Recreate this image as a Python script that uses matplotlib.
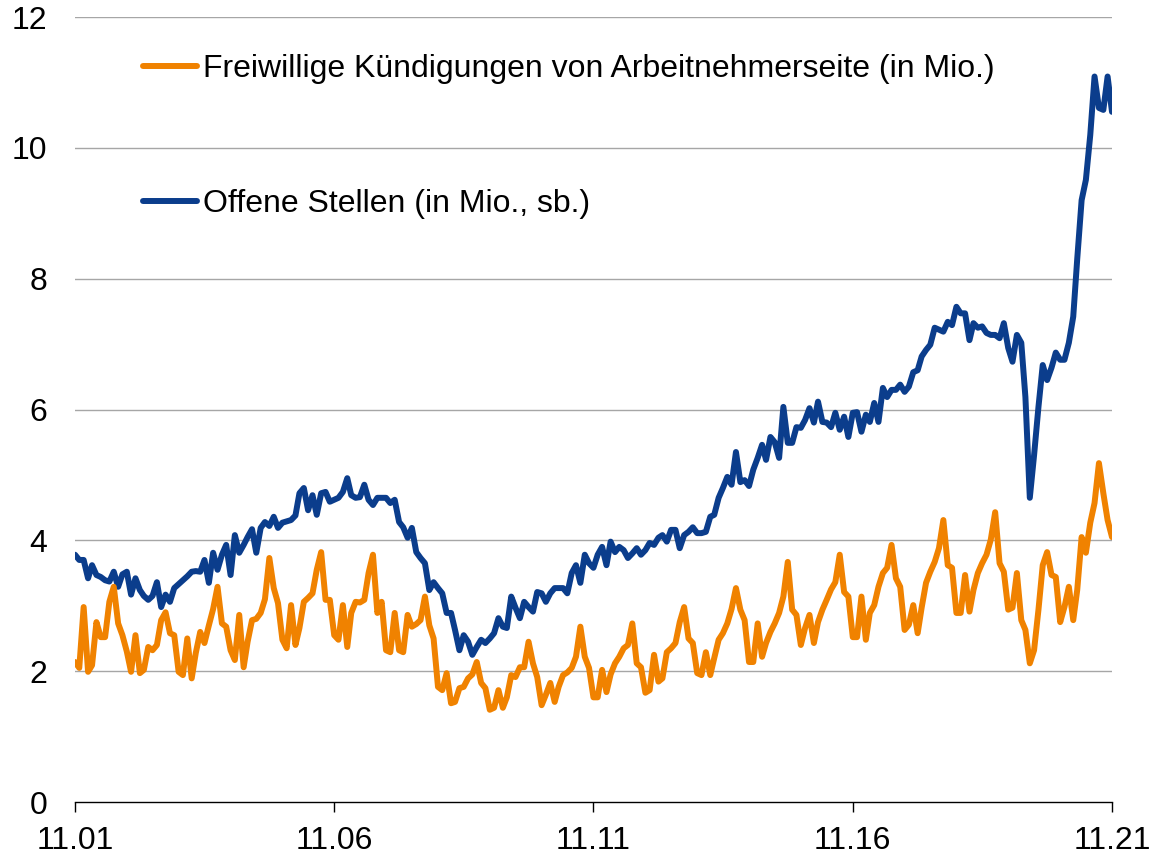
import matplotlib
matplotlib.use("Agg")
import matplotlib.pyplot as plt
import pandas as pd

plt.rcParams['font.family'] = ['Liberation Sans', 'DejaVu Sans']

dates = pd.date_range("2001-11-01", "2021-11-01", freq="MS")

quits = [
    2.14, 2.05, 2.98, 1.99, 2.09, 2.75, 2.52, 2.52, 3.06, 3.29, 2.73, 2.55,
    2.30, 1.99, 2.55, 1.97, 2.02, 2.37, 2.32, 2.40, 2.78, 2.90, 2.58, 2.55,
    1.99, 1.94, 2.50, 1.89, 2.28, 2.60, 2.43, 2.70, 2.95, 3.29, 2.73, 2.68,
    2.32, 2.17, 2.86, 2.06, 2.45, 2.78, 2.80, 2.89, 3.10, 3.73, 3.27, 3.04,
    2.48, 2.35, 3.01, 2.40, 2.66, 3.06, 3.12, 3.19, 3.55, 3.82, 3.09, 3.09,
    2.55, 2.48, 3.01, 2.37, 2.89, 3.06, 3.05, 3.09, 3.50, 3.78, 2.89, 3.06,
    2.32, 2.29, 2.89, 2.32, 2.29, 2.86, 2.68, 2.72, 2.78, 3.14, 2.70, 2.50,
    1.76, 1.71, 1.97, 1.51, 1.53, 1.74, 1.76, 1.89, 1.95, 2.14, 1.82, 1.74,
    1.41, 1.44, 1.71, 1.44, 1.60, 1.94, 1.91, 2.06, 2.06, 2.45, 2.12, 1.91,
    1.48, 1.64, 1.82, 1.53, 1.76, 1.94, 1.98, 2.05, 2.22, 2.68, 2.22, 2.05,
    1.60, 1.60, 2.02, 1.68, 1.95, 2.12, 2.22, 2.35, 2.40, 2.73, 2.12, 2.06,
    1.67, 1.71, 2.25, 1.84, 1.89, 2.29, 2.35, 2.43, 2.75, 2.98, 2.50, 2.43,
    1.97, 1.94, 2.29, 1.94, 2.20, 2.48, 2.58, 2.73, 2.95, 3.27, 2.94, 2.78,
    2.14, 2.14, 2.73, 2.22, 2.43, 2.60, 2.73, 2.89, 3.14, 3.67, 2.94, 2.86,
    2.40, 2.66, 2.86, 2.43, 2.75, 2.94, 3.09, 3.25, 3.36, 3.78, 3.21, 3.14,
    2.52, 2.52, 3.14, 2.48, 2.89, 3.01, 3.29, 3.50, 3.58, 3.93, 3.42, 3.29,
    2.63, 2.71, 3.01, 2.58, 2.97, 3.35, 3.52, 3.67, 3.88, 4.31, 3.62, 3.58,
    2.89, 2.89, 3.47, 2.91, 3.24, 3.50, 3.65, 3.78, 4.01, 4.43, 3.65, 3.52,
    2.94, 2.97, 3.50, 2.78, 2.63, 2.12, 2.32, 2.94, 3.62, 3.82, 3.47, 3.44,
    2.75, 2.98, 3.29, 2.78, 3.24, 4.05, 3.81, 4.27, 4.57, 5.18, 4.72, 4.31,
    4.05,
]

openings = [
    3.78, 3.70, 3.70, 3.42, 3.62, 3.47, 3.44, 3.39, 3.37, 3.52, 3.29, 3.48,
    3.52, 3.17, 3.42, 3.24, 3.15, 3.09, 3.15, 3.36, 2.98, 3.17, 3.06, 3.27,
    3.33, 3.39, 3.45, 3.52, 3.53, 3.52, 3.70, 3.35, 3.81, 3.55, 3.78, 3.93,
    3.47, 4.08, 3.81, 3.93, 4.05, 4.17, 3.81, 4.19, 4.28, 4.22, 4.36, 4.19,
    4.27, 4.29, 4.31, 4.38, 4.72, 4.80, 4.46, 4.69, 4.39, 4.72, 4.74, 4.59,
    4.62, 4.65, 4.74, 4.95, 4.69, 4.65, 4.66, 4.85, 4.62, 4.54, 4.65, 4.65,
    4.65, 4.57, 4.62, 4.28, 4.20, 4.04, 4.19, 3.82, 3.73, 3.65, 3.24, 3.36,
    3.27, 3.19, 2.89, 2.89, 2.63, 2.32, 2.55, 2.45, 2.25, 2.37, 2.48, 2.43,
    2.50, 2.58, 2.81, 2.68, 2.66, 3.14, 2.97, 2.81, 3.06, 2.98, 2.91, 3.21,
    3.19, 3.06, 3.19, 3.27, 3.27, 3.27, 3.19, 3.50, 3.62, 3.35, 3.78, 3.65,
    3.58, 3.78, 3.90, 3.62, 3.98, 3.82, 3.90, 3.85, 3.73, 3.80, 3.88, 3.78,
    3.85, 3.96, 3.93, 4.04, 4.08, 3.98, 4.16, 4.16, 3.88, 4.08, 4.13, 4.20,
    4.11, 4.11, 4.13, 4.36, 4.39, 4.65, 4.80, 4.97, 4.85, 5.35, 4.89, 4.92,
    4.83, 5.08, 5.26, 5.46, 5.23, 5.58, 5.50, 5.26, 6.04, 5.49, 5.49, 5.73,
    5.72, 5.84, 6.02, 5.80, 6.12, 5.81, 5.80, 5.73, 5.95, 5.69, 5.89, 5.58,
    5.95, 5.96, 5.66, 5.92, 5.81, 6.10, 5.81, 6.33, 6.19, 6.30, 6.30, 6.38,
    6.27, 6.35, 6.57, 6.60, 6.81, 6.91, 6.99, 7.25, 7.22, 7.19, 7.34, 7.29,
    7.57, 7.47, 7.47, 7.06, 7.32, 7.25, 7.27, 7.17, 7.14, 7.14, 7.09, 7.32,
    6.94, 6.73, 7.14, 7.02, 6.19, 4.65, 5.30, 6.04, 6.68, 6.45, 6.64, 6.87,
    6.76, 6.76, 7.02, 7.42, 8.30, 9.20, 9.51, 10.20, 11.09, 10.61, 10.58, 11.09,
    10.55,
]

tick_dates = pd.to_datetime(["2001-11-01", "2006-11-01", "2011-11-01", "2016-11-01", "2021-11-01"])
tick_labels = ["11.01", "11.06", "11.11", "11.16", "11.21"]
y_ticks = [0, 2, 4, 6, 8, 10, 12]

label_quits = "Freiwillige Kündigungen von Arbeitnehmerseite (in Mio.)"
label_open = "Offene Stellen (in Mio., sb.)"

ORANGE = "#F08200"
BLUE = "#0B3D8C"
LW = 4.3
FS = 23

fig = plt.figure(figsize=(11.55, 8.57), dpi=100)
ax = fig.add_axes([75 / 1155, 1 - 802 / 857, (1112 - 75) / 1155, (802 - 17) / 857])

ax.plot(dates, openings, color=BLUE, lw=LW, solid_joinstyle="round", solid_capstyle="round", label=label_open, zorder=3)
ax.plot(dates, quits, color=ORANGE, lw=LW, solid_joinstyle="round", solid_capstyle="round", label=label_quits, zorder=3)

ax.set_xlim(dates[0], dates[-1])
ax.set_ylim(0, 12)
ax.set_yticks(y_ticks)
ax.set_yticklabels([str(v) for v in y_ticks])
ax.set_xticks(tick_dates)
ax.set_xticklabels(tick_labels)

for v in y_ticks[1:]:
    ax.axhline(v, color="#A6A6A6", lw=1.0, zorder=1)

for s in ["left", "right", "top"]:
    ax.spines[s].set_visible(False)
ax.spines["bottom"].set_color("black")
ax.spines["bottom"].set_linewidth(1.0)
ax.spines["bottom"].set_zorder(4)

ax.tick_params(axis="y", length=0, pad=20, labelsize=FS)
ax.tick_params(axis="x", length=7, width=1.0, direction="out", pad=10, labelsize=FS)

handles, labels = ax.get_legend_handles_labels()
leg = ax.legend(handles[::-1], labels[::-1], loc="upper left",
                bbox_to_anchor=(143 / 1155, 1 - 54 / 857), bbox_transform=fig.transFigure,
                frameon=False, fontsize=FS, handlelength=1.69, handletextpad=0.19,
                labelspacing=3.3, borderpad=0, borderaxespad=0)
for line in leg.get_lines():
    line.set_linewidth(LW)

fig.savefig("out.png", dpi=100)
